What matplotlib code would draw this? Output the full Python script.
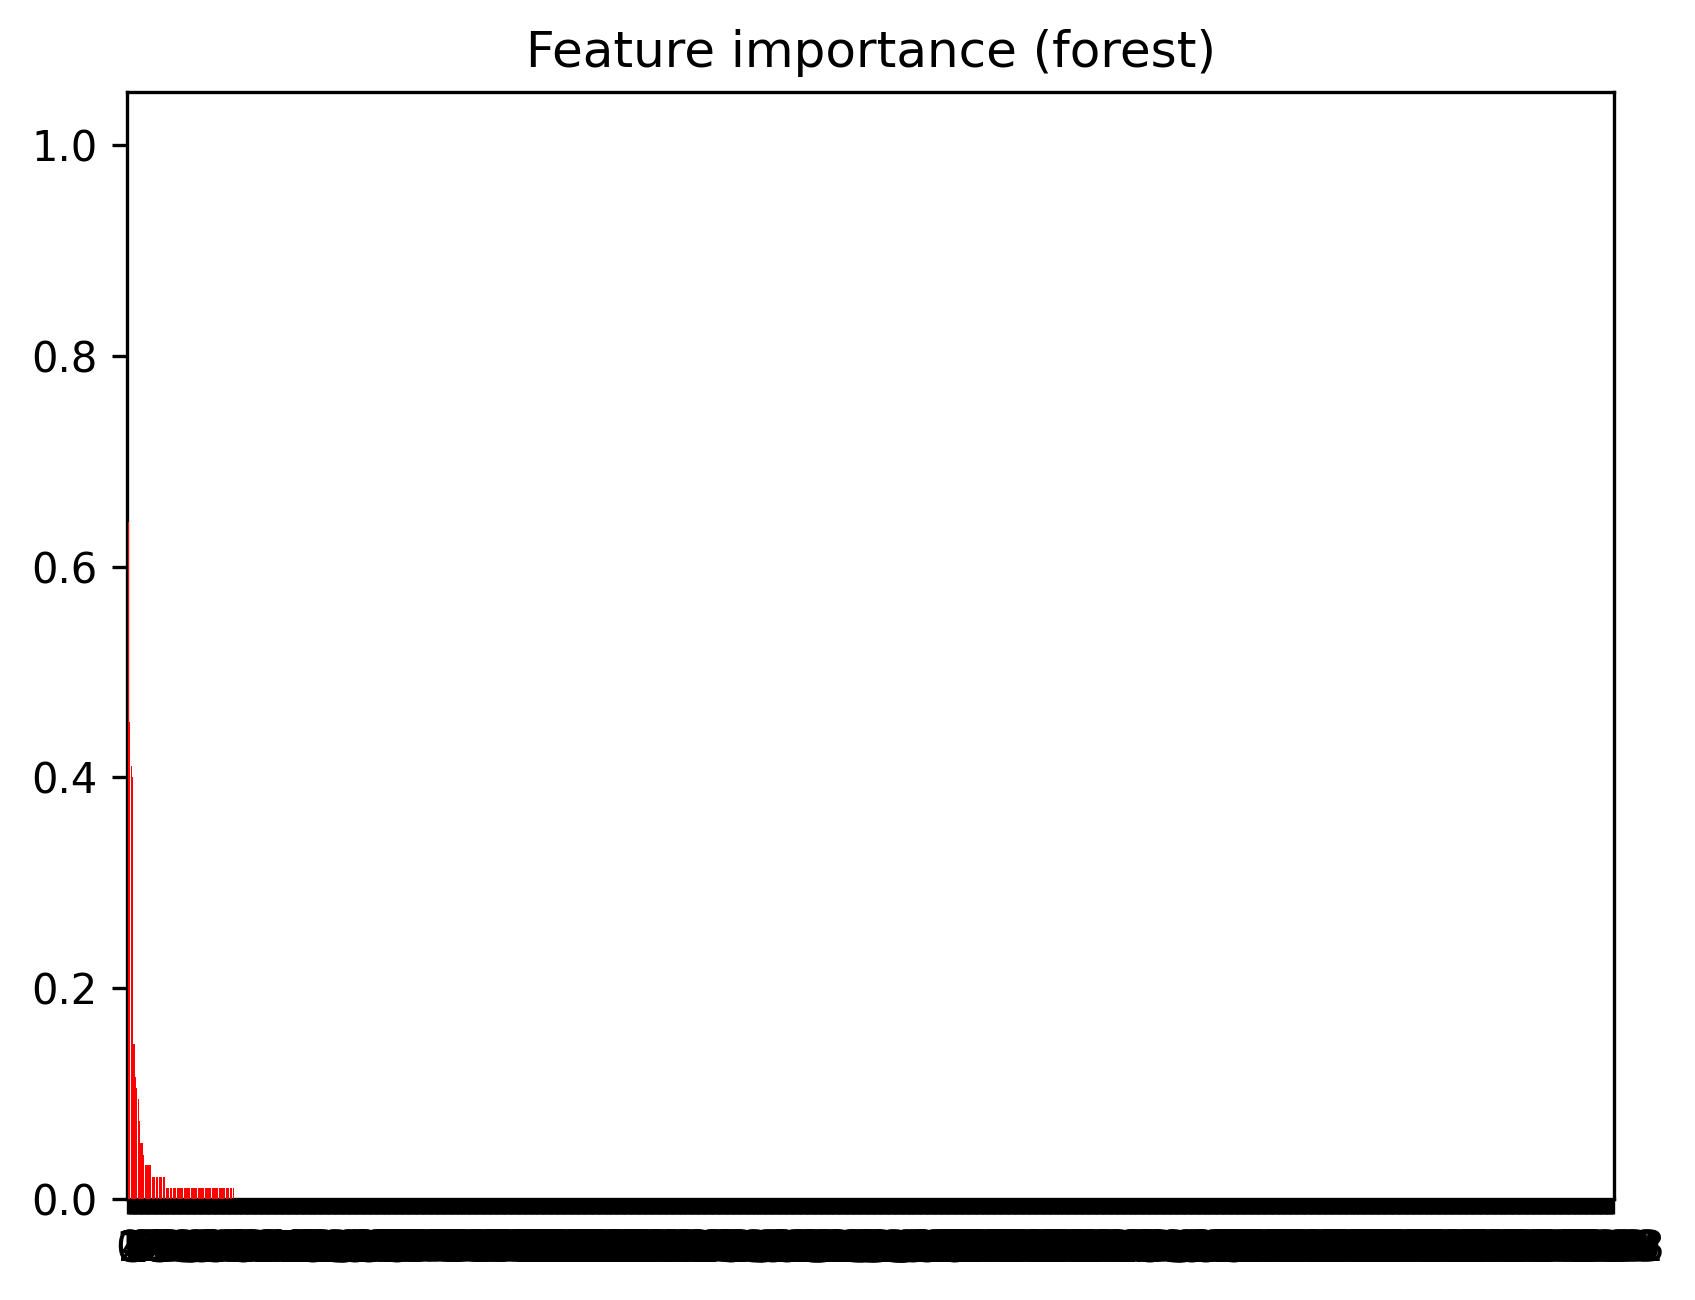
import matplotlib
matplotlib.use("Agg")
import matplotlib.pyplot as plt

# importances of the ranked features (most important first)
top_importances = [0.642, 0.453, 0.411, 0.400, 0.147, 0.116, 0.105, 0.095,
                   0.074, 0.053, 0.053, 0.042,
                   0.032, 0.032, 0.032, 0.032, 0.032,
                   0.021, 0.021, 0.021, 0.021, 0.021,
                   0.021, 0.021, 0.021, 0.021, 0.021,
                   0.0105, 0.0105, 0.0105, 0.0105, 0.0105, 0.0105, 0.0105,
                   0.0105, 0.0105, 0.0105, 0.0105, 0.0105, 0.0105, 0.0105,
                   0.0105, 0.0105, 0.0105, 0.0105, 0.0105, 0.0105, 0.0105,
                   0.0105, 0.0105, 0.0105, 0.0105, 0.0105, 0.0105, 0.0105,
                   0.0105, 0.0105, 0.0105, 0.0105, 0.0105, 0.0105, 0.0105,
                   0.0105, 0.0105, 0.0105, 0.0105, 0.0105, 0.0105, 0.0105,
                   0.0105, 0.0105, 0.0105, 0.0105, 0.0105, 0.0105, 0.0105]
n_features = 1064
# the remaining features have zero importance
importances = top_importances + [0.0] * (n_features - len(top_importances))
feature_labels = [str(i) for i in range(n_features)]

W, H, DPI = 1695, 1300, 300
fig = plt.figure(figsize=(W / DPI, H / DPI), dpi=DPI)
ax = fig.add_axes([127 / W, 101 / H, 1487 / W, 1106.7 / H])

x = list(range(n_features))
# bars drawn over the spine so the first (thin) bar is not hidden by it
ax.bar(x, importances, color="r", align="center", zorder=3)
ax.set_xticks(x)
ax.set_xticklabels(feature_labels)
ax.set_xlim(-1, n_features)
ax.set_ylim(0, 1.05)
ax.set_title("Feature importance (forest)")

fig.savefig("out.png", dpi=DPI)
